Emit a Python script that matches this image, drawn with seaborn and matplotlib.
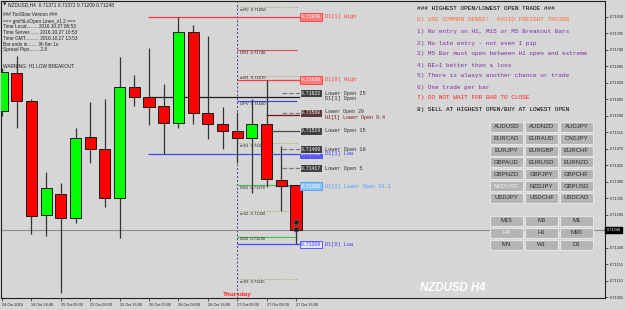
import matplotlib
matplotlib.use("Agg")
import matplotlib.pyplot as plt
from matplotlib.patches import Rectangle
import seaborn as sns
import pandas as pd

# ---------------- data ----------------
bars = list(range(21))
opens  = [0.71573, 0.71677, 0.71600, 0.71289, 0.71346, 0.71281, 0.71502, 0.71469, 0.71336, 0.71639, 0.71611,
          0.71587, 0.71540, 0.71789, 0.71568, 0.71538, 0.71519, 0.71499, 0.71538, 0.71385, 0.71371]
highs  = [0.71690, 0.71723, 0.71606, 0.71407, 0.71376, 0.71527, 0.71598, 0.71606, 0.71721, 0.71672, 0.71745,
          0.71647, 0.71830, 0.71808, 0.71778, 0.71584, 0.71570, 0.71606, 0.71658, 0.71478, 0.71372]
lows   = [0.71560, 0.71527, 0.71237, 0.71232, 0.71076, 0.71267, 0.71431, 0.71311, 0.71226, 0.71587, 0.71535,
          0.71456, 0.71527, 0.71538, 0.71497, 0.71469, 0.71431, 0.71349, 0.71366, 0.71300, 0.71209]
closes = [0.71680, 0.71600, 0.71286, 0.71363, 0.71281, 0.71499, 0.71469, 0.71336, 0.71639, 0.71611, 0.71584,
          0.71540, 0.71789, 0.71568, 0.71538, 0.71519, 0.71499, 0.71538, 0.71387, 0.71368, 0.71248]

x_tick_bars = [0, 2, 4, 6, 8, 10, 12, 14, 16, 18, 20]
x_tick_labels = ["24 Oct 2016", "24 Oct 16:00", "25 Oct 00:00", "25 Oct 08:00", "25 Oct 16:00",
                 "26 Oct 00:00", "26 Oct 08:00", "26 Oct 16:00", "27 Oct 00:00", "27 Oct 08:00",
                 "27 Oct 16:00"]
price_ticks = [0.71830, 0.71785, 0.71740, 0.71695, 0.71650, 0.71605, 0.71560, 0.71515, 0.71470,
               0.71425, 0.71380, 0.71335, 0.71290, 0.71200, 0.71155, 0.71110, 0.71065]
current_price = 0.71248

pivot_names = ["mR2", "DR1", "mR1", "DPV", "mS1", "DS1", "mS2", "DS2", "mS3"]
pivot_prices = [0.71858, 0.71740, 0.71670, 0.71600, 0.71485, 0.71370, 0.71300, 0.71230, 0.71115]

hilo_names = ["D1[1] High", "D1[0] High", "D1[1] Open", "D1[1] Low", "D1[0] Low"]
hilo_prices = [0.71830, 0.71658, 0.71611, 0.71456, 0.71209]

lower_open_names = ["Lower Open 25", "Lower Open 20", "H1[1] Lower Open 9.4", "Lower Open 15",
                    "Lower Open 10", "Lower Open 5", "H1[1] Lower Open 16.1"]
lower_open_prices = [0.71622, 0.71568, 0.71562, 0.71519, 0.71469, 0.71417, 0.71368]

trade_prices = [0.71270, 0.71251]

info_lines = ["### TooSlow Version ###", "=== gmHiLoOpen Lines_v1.2 ===",
              "Time Local........ 2016.10.27 06:53", "Time Server....... 2016.10.27 16:53",
              "Time GMT.......... 2016.10.27 13:53", "Bar ends in....... 3h 6m 1s",
              "Spread Pips....... 2.8"]
warning_text = "WARNING: H1 LOW BREAKOUT"
header_text = "NZDUSD,H4  0.71371 0.71372 0.71209 0.71248"

rules = ["### HIGHEST OPEN/LOWEST OPEN TRADE ###",
         "0) USE COMMON SENSE!  AVOID FREIGHT TRAINS",
         "1) No entry on H1, M15 or M5 Breakout Bars",
         "2) No late entry - not even 1 pip",
         "3) M5 Bar must open between H1 open and extreme",
         "4) BE+1 better than a loss",
         "5) There is always another chance or trade",
         "6) One trade per bar",
         "7) DO NOT WAIT FOR BAR TO CLOSE",
         "8) SELL AT HIGHEST OPEN/BUY AT LOWEST OPEN"]
rule_colors = ["#000000", "#ff6a3a", "#7a2fa8", "#7a2fa8", "#7a2fa8", "#7a2fa8", "#7a2fa8",
               "#7a2fa8", "#ff2020", "#000000"]

pair_buttons = [["AUDUSD", "AUDNZD", "AUDJPY"], ["EURCAD", "EURAUD", "CADJPY"],
                ["EURJPY", "EURGBP", "EURCHF"], ["GBPAUD", "EURUSD", "EURNZD"],
                ["GBPNZD", "GBPJPY", "GBPCHF"], ["NZDUSD", "NZDJPY", "GBPUSD"],
                ["USDJPY", "USDCHF", "USDCAD"]]
tf_buttons = [["M15", "M5", "M1"], ["H4", "H1", "M30"], ["MN", "W1", "D1"]]
selected = {"NZDUSD", "H4"}

# ---------------- style ----------------
BG = "#d6d6d6"
sns.set_style("ticks", {"axes.facecolor": BG, "figure.facecolor": BG,
                        "axes.edgecolor": "#202020"})
plt.rcParams["font.family"] = ["Liberation Sans", "DejaVu Sans"]

W, H = 625, 310
fig = plt.figure(figsize=(W / 100, H / 100), dpi=100)
fig.patch.set_facecolor(BG)

ax = fig.add_axes([1 / W, 12 / H, 604 / W, 297 / H])
ax.set_facecolor(BG)

PX0, PXS = 2.0, 14.7          # bar 0 centre pixel, pixels per bar
def bx(px):
    return (px - PX0) / PXS

def fx(px):
    return px / W

def fy(py):
    return 1 - py / H

ax.set_xlim(bx(1), bx(605))
ax.set_ylim(0.710623, 0.718737)

df = pd.DataFrame({"bar": bars, "open": opens, "high": highs, "low": lows, "close": closes})
df["up"] = df["close"] >= df["open"]

# wicks
ax.vlines(df["bar"], df["low"], df["high"], color="#333333", lw=0.9, zorder=3)
# bodies
for _, r in df.iterrows():
    lo, hi = min(r["open"], r["close"]), max(r["open"], r["close"])
    ax.bar(r["bar"], hi - lo, bottom=lo, width=0.76,
           color="#00ff00" if r["up"] else "#ff0000",
           edgecolor="#1a1a1a", linewidth=0.7, zorder=4)

# day separator
ax.axvline(bx(237), color="#3a3a8a", lw=0.7, ls=(0, (2, 2)), zorder=1)
ax.text(bx(237), 0.71066, "Thursday", color="#ff2020", fontsize=4.6, fontweight="bold",
        ha="center", va="bottom", zorder=6)

# current price line
ax.axhline(current_price, color="#8c8c8c", lw=0.8, zorder=1)

# pivot levels
pivot_styles = {"mR2": ("#a5a55a", ":"), "DR1": ("#e84848", "-"), "mR1": ("#a5a55a", ":"),
                "DPV": ("#3a3aff", "-"), "mS1": ("#a5a55a", ":"), "DS1": ("#44c044", "-"),
                "mS2": ("#a5a55a", ":"), "DS2": ("#44c044", "-"), "mS3": ("#a5a55a", ":")}
for name, p in zip(pivot_names, pivot_prices):
    c, ls = pivot_styles[name]
    ax.hlines(p, bx(237), bx(297), color=c, lw=0.8, ls=ls, zorder=2)
    ax.annotate(f"{name}  {p:.5f}", xy=(bx(240), p), xytext=(0, -0.6), textcoords="offset points",
                fontsize=3.0, color="#202020", ha="left", va="top", zorder=2)

# D1 high / low / open levels
hilo_style = {"D1[1] High": ("#ff3b3b", bx(148), "#ff7b7b", "white", "#ff3b3b"),
              "D1[0] High": ("#ff3b3b", bx(237), "#ff7b7b", "white", "#ff3b3b"),
              "D1[1] Open": ("#202020", bx(148), None, None, "#303030"),
              "D1[1] Low": ("#4646ff", bx(148), "#5a5aff", "white", "#3a3aff"),
              "D1[0] Low": ("#4646ff", bx(237), "#e4e4ff", "#3a3aff", "#3a3aff")}
mono = ["Liberation Mono", "DejaVu Sans Mono"]
def price_box(p, fc, tc, ec):
    ax.text(bx(301), p, f"{p:.5f}", fontsize=3.4, family=mono, color=tc, ha="left", va="center",
            zorder=7, bbox=dict(boxstyle="square,pad=0.25", fc=fc, ec=ec, lw=0.6))

for name, p in zip(hilo_names, hilo_prices):
    lc, x0, fc, tc, txc = hilo_style[name]
    ax.hlines(p, x0, bx(300), color=lc, lw=0.9, zorder=2)
    if name == "D1[1] Open":
        ax.annotate(name, xy=(bx(325), p), xytext=(0, -0.8), textcoords="offset points",
                    fontsize=3.8, family=mono, color=txc, ha="left", va="center", zorder=7)
        continue
    price_box(p, fc, tc, lc)
    ax.text(bx(325), p, name, fontsize=3.8, family=mono, color=txc, ha="left", va="center", zorder=7)

# lower-open levels  (name: line colour, style, start, box colour, text colour, text offset pt)
lo_style = {"Lower Open 25": ("#7a7a7a", "--", bx(282), "#404040", "#303030", 0.0),
            "Lower Open 20": ("#7a7a7a", "--", bx(282), "#5a3838", "#303030", 1.2),
            "H1[1] Lower Open 9.4": ("#7a1010", "-", bx(266), None, "#8a1010", -1.8),
            "Lower Open 15": ("#4a4a4a", "-", bx(272), "#404040", "#303030", 0.0),
            "Lower Open 10": ("#7a7a7a", "--", bx(282), "#404040", "#303030", 0.0),
            "Lower Open 5": ("#7a7a7a", "--", bx(282), "#404040", "#303030", 0.0),
            "H1[1] Lower Open 16.1": ("#4aa0ff", "-", bx(275), "#8cc4ff", "#4a9cff", 0.0)}
for name, p in zip(lower_open_names, lower_open_prices):
    lc, ls, x0, fc, txc, dy = lo_style[name]
    ax.hlines(p, x0, bx(300), color=lc, lw=0.9, ls=ls, zorder=2)
    if fc is not None:
        price_box(p, fc, "white", "#e8e8e8" if fc != "#8cc4ff" else "#4a9cff")
    ax.annotate(name, xy=(bx(325), p), xytext=(0, dy), textcoords="offset points",
                fontsize=3.6 if dy else 3.8, family=mono, color=txc, ha="left", va="center", zorder=7)

# trade markers
tdf = pd.DataFrame({"bar": [20] * len(trade_prices), "price": trade_prices})
sns.scatterplot(data=tdf, x="bar", y="price", ax=ax, s=14, color="#1e1e1e",
                edgecolor="#606060", linewidth=0.6, zorder=8, legend=False)

# axes ticks
ax.yaxis.tick_right()
ax.set_yticks(price_ticks)
ax.set_yticklabels([f"{p:.5f}" for p in price_ticks])
ax.tick_params(axis="y", labelsize=2.8, length=2, width=0.5, pad=1.2, colors="#202020")
ax.set_xticks(x_tick_bars)
ax.set_xticklabels(x_tick_labels, ha="left")
ax.tick_params(axis="x", labelsize=2.8, length=2, width=0.5, pad=1.5, colors="#202020")
ax.set_xlabel("")
ax.set_ylabel("")
for s in ax.spines.values():
    s.set_linewidth(0.8)
    s.set_color("#202020")

# current price label on axis
ax.text(1.003, current_price, f"{current_price:.5f}", transform=ax.get_yaxis_transform(),
        fontsize=2.8, color="white", ha="left", va="center", zorder=9, clip_on=False,
        bbox=dict(boxstyle="square,pad=0.35", fc="black", ec="black"))

# ---------------- overlay texts ----------------
fig.text(fx(3), fy(5), "\u25bc", fontsize=3.2, color="#202020", family="DejaVu Sans", va="center")
fig.text(fx(8), fy(5), header_text, fontsize=3.5, color="#202020", va="center")
info_y = [15, 21, 27, 33, 38, 44, 49]
for yy, t in zip(info_y, info_lines):
    fig.text(fx(3), fy(yy), t, fontsize=3.4, color="#202020", va="center")
fig.text(fx(3), fy(66), warning_text, fontsize=3.4, color="#202020", va="center")

rule_y = [9, 20, 32, 43, 54, 65, 76, 87, 98, 109]
for yy, t, c in zip(rule_y, rules, rule_colors):
    fig.text(fx(417), fy(yy), t, fontsize=4.4, family=mono, color=c, va="center")

def button(x0, y0, w, h, label, sel):
    fig.add_artist(Rectangle((fx(x0), fy(y0 + h)), w / W, h / H, transform=fig.transFigure,
                             fc="#b4b4b4", ec="#e4e4e4", lw=0.8, zorder=10))
    fig.text(fx(x0 + w / 2), fy(y0 + h / 2), label, fontsize=4.3, ha="center", va="center",
             color="#f4f4f4" if sel else "#2a2a2a", zorder=11)

col_x = [490, 525, 560]
for r, row in enumerate(pair_buttons):
    for c, lab in enumerate(row):
        button(col_x[c], 122 + 11.8 * r, 33, 10, lab, lab in selected)
for r, row in enumerate(tf_buttons):
    for c, lab in enumerate(row):
        button(col_x[c], 216 + 12 * r, 33, 10, lab, lab in selected)

fig.text(fx(420), fy(288), "NZDUSD H4", fontsize=8.3, fontweight="bold", style="italic",
         color="white", va="center", ha="left")

fig.savefig("out.png", dpi=100, facecolor=BG)
